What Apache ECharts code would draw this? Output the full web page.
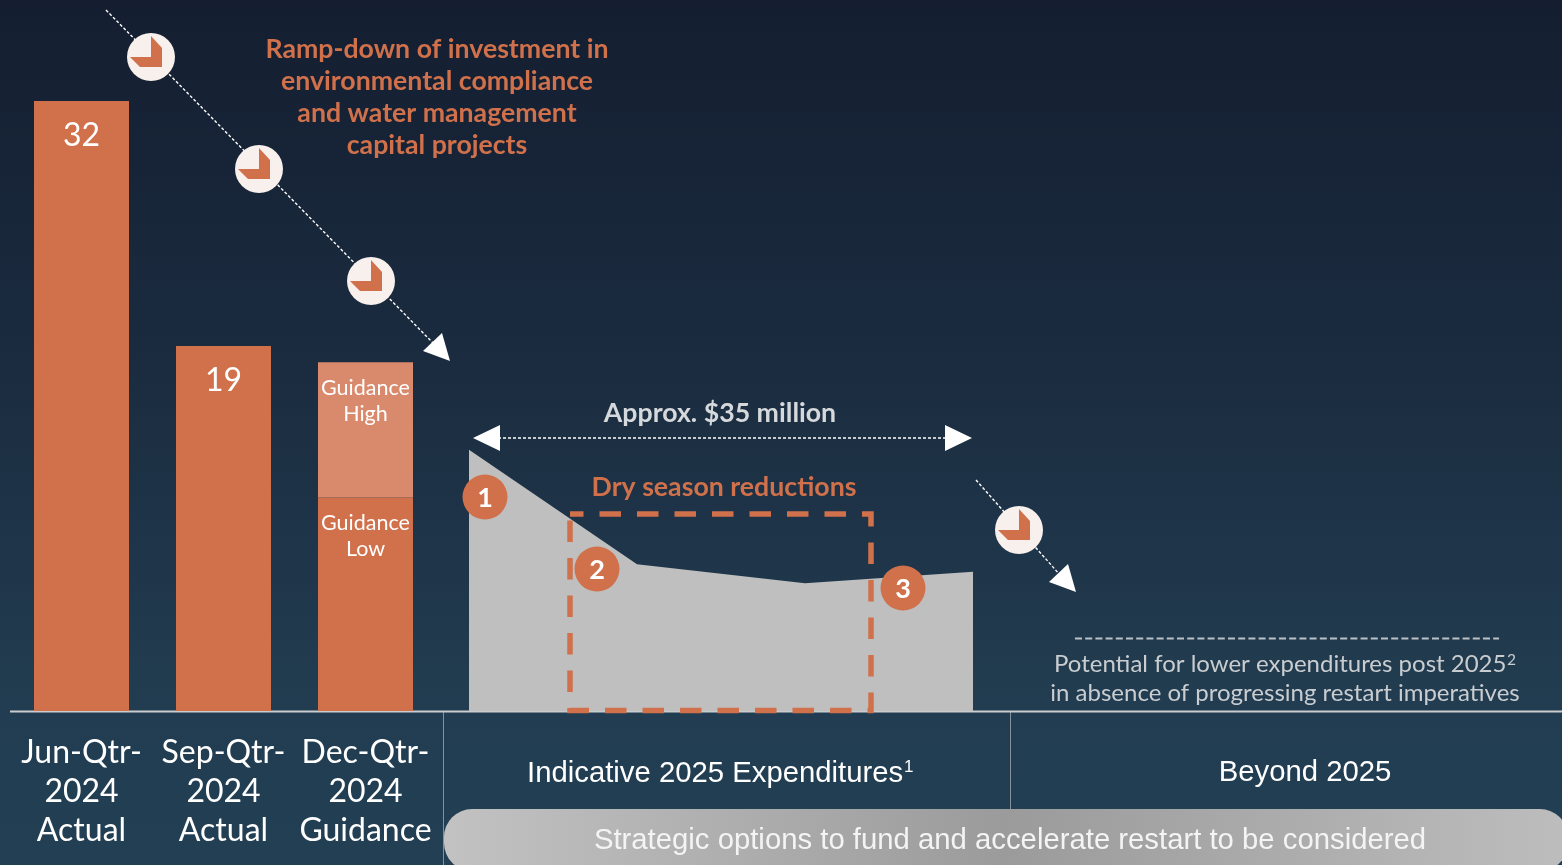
<!DOCTYPE html>
<html><head><meta charset="utf-8">
<style>html,body{margin:0;padding:0;background:#1b2c40}#c{width:1562px;height:865px}</style>
<script src="https://cdn.jsdelivr.net/npm/echarts@6/dist/echarts.min.js"></script>
</head><body><div id="c"></div>
<script>
const barCategories = ['Jun-Qtr-\n2024\nActual','Sep-Qtr-\n2024\nActual','Dec-Qtr-\n2024\nGuidance'];
const actualValues = [32, 19.15, null];
const guidanceLow = [null, null, 11.2];
const guidanceHighIncrement = [null, null, 7.1];
const periods2025 = ['Q1','Q2','Q3','Q4'];
const expenditure2025 = [13.7, 7.7, 6.7, 7.3];

const ORANGE = '#d0714b', LIGHT = '#d98a6c', GREY = '#bfbfbf';
const LATO = 'Lato, sans-serif', ARIAL = '"Liberation Sans", Arial, sans-serif';

function text(t, x, y, size, fill, family, weight, align) {
  return {type:'text', x, y, z:20, silent:true, style:{
    text:t, fill, textAlign:align||'center', textVerticalAlign:'middle',
    font:(weight||'normal')+' '+size+'px '+family}};
}
function dotted(x1,y1,x2,y2) {
  return {type:'line', z:10, silent:true, shape:{x1,y1,x2,y2},
    style:{stroke:'#ffffff', lineWidth:1.4, lineDash:[3,2]}};
}
function tri(points) {
  return {type:'polygon', z:12, silent:true, shape:{points}, style:{fill:'#ffffff'}};
}
function badge(cx,cy) {
  const pts=[[0,-21],[11,-9],[11,10],[-11,10],[-21,0],[0,0]].map(p=>[cx+p[0],cy+p[1]]);
  return [
    {type:'circle', z:11, silent:true, shape:{cx,cy,r:24}, style:{fill:'#f8f0ec'}},
    {type:'polygon', z:12, silent:true, shape:{points:pts}, style:{fill:ORANGE}}
  ];
}
function numbered(n,cx,cy) {
  return [
    {type:'circle', z:18, silent:true, shape:{cx,cy,r:22.5}, style:{fill:ORANGE}},
    text(String(n),cx,cy+1,27,'#ffffff',LATO,'bold')
  ];
}

const graphics = [
  {type:'rect', z:1, silent:true, shape:{x:444,y:809,width:1124,height:62,r:28},
   style:{fill:{type:'linear',x:0,y:0,x2:1,y2:0,colorStops:[
     {offset:0,color:'#c2c2c2'},{offset:0.5,color:'#9b9b9b'},{offset:1,color:'#bdbdbd'}]}}},
  {type:'line', z:2, silent:true, shape:{x1:10,y1:711.5,x2:1562,y2:711.5}, style:{stroke:'#c9cdd0',lineWidth:2}},
  {type:'line', z:0, silent:true, shape:{x1:443.5,y1:711,x2:443.5,y2:865}, style:{stroke:'#84919b',lineWidth:1}},
  {type:'line', z:0, silent:true, shape:{x1:1010.5,y1:711,x2:1010.5,y2:809}, style:{stroke:'#84919b',lineWidth:1}},

  dotted(106,10,433,343), tri([[442,333],[423,351],[450,361]]),
  ...badge(151,57), ...badge(259,169), ...badge(371,281),
  dotted(976,480,1060,575), tri([[1068,564],[1049,582],[1076,592]]),
  ...badge(1019,530),

  dotted(498,438,947,438), tri([[473,438],[500,425],[500,451]]), tri([[972,438],[945,425],[945,451]]),

  {type:'rect', z:15, silent:true, shape:{x:570,y:514,width:301,height:196.5},
   style:{fill:null,stroke:ORANGE,lineWidth:5.5,lineDash:[21.5,16],lineDashOffset:8}},
  ...numbered(1,485,497), ...numbered(2,597,569), ...numbered(3,903,588),

  {type:'line', z:5, silent:true, shape:{x1:1075,y1:638.5,x2:1499,y2:638.5},
   style:{stroke:'#bcc1c5',lineWidth:2,lineDash:[7,3.2]}},

  text('Ramp-down of investment in',437,49,26.7,ORANGE,LATO,'bold'),
  text('environmental compliance',437,81,26.7,ORANGE,LATO,'bold'),
  text('and water management',437,113,26.7,ORANGE,LATO,'bold'),
  text('capital projects',437,145,26.7,ORANGE,LATO,'bold'),
  text('Approx. $35 million',720,413,26.7,'#d6d9dc',LATO,'bold'),
  text('Dry season reductions',724,487,26.7,ORANGE,LATO,'bold'),
  text('Potential for lower expenditures post 2025',1054,664,24,'#c9cdd0',LATO,'normal','left'),
  text('2',1507,660,15.5,'#c9cdd0',LATO,'normal','left'),
  text('in absence of progressing restart imperatives',1285,693,24,'#c9cdd0',LATO),
  text('Indicative 2025 Expenditures',527,774,29.3,'#ffffff',ARIAL,'normal','left'),
  text('1',904,767,17,'#ffffff',ARIAL,'normal','left'),
  text('Beyond 2025',1305,773,29.3,'#ffffff',ARIAL),
  text('Strategic options to fund and accelerate restart to be considered',1010,841,29.3,'#f4f4f4',ARIAL)
];

const hiddenY = gridIndex => ({type:'value', gridIndex, min:0, max:32, show:false});

const option = {
  animation:false,
  backgroundColor:{type:'linear',x:0,y:0,x2:0,y2:1,colorStops:[
    {offset:0,color:'#141e30'},{offset:0.43,color:'#1b2c40'},{offset:0.82,color:'#223d51'},{offset:1,color:'#223f53'}]},
  grid:[
    {left:10.5, width:426, top:101, height:610},
    {left:469, width:504, top:101, height:610}
  ],
  xAxis:[
    {type:'category', gridIndex:0, data:barCategories,
     axisLine:{show:false}, axisTick:{show:false},
     axisLabel:{interval:0, color:'#ffffff', fontFamily:LATO, fontSize:32, lineHeight:39, margin:22, hideOverlap:false}},
    {type:'category', gridIndex:1, data:periods2025, boundaryGap:false, show:false}
  ],
  yAxis:[hiddenY(0), hiddenY(1)],
  series:[
    {name:'Actual', type:'bar', xAxisIndex:0, yAxisIndex:0, stack:'q', barWidth:95,
     data:actualValues, itemStyle:{color:ORANGE},
     label:{show:true, position:'insideTop', distance:18.5, color:'#ffffff', fontFamily:LATO, fontSize:32,
            formatter:p=>Math.round(p.value)}},
    {name:'Guidance Low', type:'bar', xAxisIndex:0, yAxisIndex:0, stack:'q', barWidth:95,
     data:guidanceLow, itemStyle:{color:ORANGE},
     label:{show:true, position:'insideTop', distance:13, color:'#ffffff', fontFamily:LATO, fontSize:21.5, lineHeight:26,
            formatter:'Guidance\nLow'}},
    {name:'Guidance High', type:'bar', xAxisIndex:0, yAxisIndex:0, stack:'q', barWidth:95,
     data:guidanceHighIncrement, itemStyle:{color:LIGHT},
     label:{show:true, position:'insideTop', distance:13, color:'#ffffff', fontFamily:LATO, fontSize:21.5, lineHeight:26,
            formatter:'Guidance\nHigh'}},
    {name:'Indicative 2025', type:'line', xAxisIndex:1, yAxisIndex:1, data:expenditure2025,
     symbol:'none', lineStyle:{width:0}, areaStyle:{color:GREY, opacity:1}, itemStyle:{color:GREY}}
  ],
  graphic:{elements:graphics}
};
const chart = echarts.init(document.getElementById('c'), null, {renderer:'canvas'});
chart.setOption(option);
</script></body></html>
